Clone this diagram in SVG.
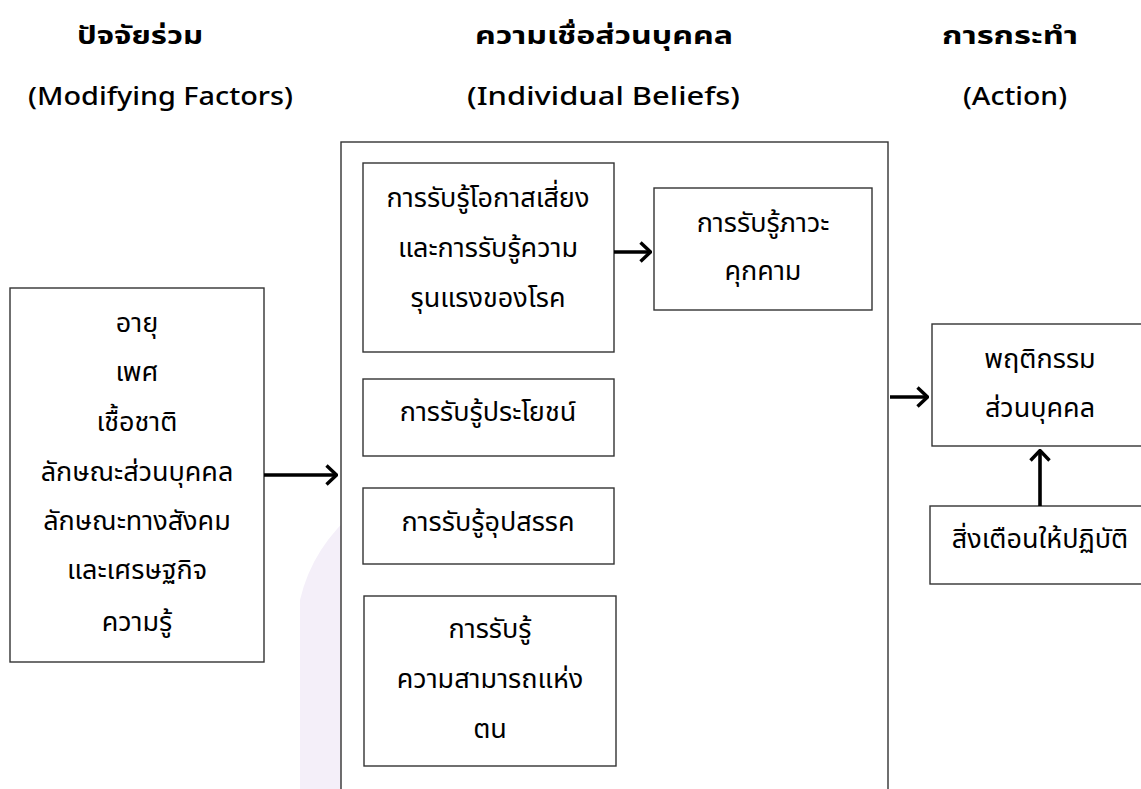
<svg xmlns="http://www.w3.org/2000/svg" width="1141" height="789" viewBox="0 0 1141 789">
<style>
.box{fill:#fff;stroke:#333;stroke-width:1.4}
.t{font-family:"Noto Sans Thai","Noto Sans Thai Looped","Noto Sans","DejaVu Sans",sans-serif;font-size:27px;fill:#000;text-anchor:middle}
.h{font-family:"Noto Sans Thai","Noto Sans","DejaVu Sans",sans-serif;font-size:24px;font-weight:bold;fill:#000;text-anchor:middle}
.s{font-family:"Noto Sans","DejaVu Sans",sans-serif;font-size:25px;font-weight:500;fill:#000;text-anchor:middle}
.c{fill:none;stroke:#000;stroke-width:3.6}
.wm{fill:#f4eff9}
</style>
<defs>
<marker id="ah" viewBox="0 0 13 22" refX="12" refY="11" markerWidth="13" markerHeight="22" markerUnits="userSpaceOnUse" orient="auto">
<polyline points="1.5,1.5 11.5,11 1.5,20.5" fill="none" stroke="#000" stroke-width="3.4"/>
</marker>
</defs>
<rect width="1141" height="789" fill="#fff"/>
<g id="watermark">
<path class="wm" d="M300 789 L300 600 Q330 470 560 430 Q790 470 815 600 L815 789 Z"/>
</g>
<g id="headings">
<text class="h" x="140" y="44" textLength="126" lengthAdjust="spacingAndGlyphs">ปัจจัยร่วม</text>
<text class="s" x="160.5" y="105" textLength="265" lengthAdjust="spacingAndGlyphs">(Modifying Factors)</text>
<text class="h" x="604" y="44" textLength="258" lengthAdjust="spacingAndGlyphs">ความเชื่อส่วนบุคคล</text>
<text class="s" x="603.5" y="105" textLength="273" lengthAdjust="spacingAndGlyphs">(Individual Beliefs)</text>
<text class="h" x="1010" y="44" textLength="136" lengthAdjust="spacingAndGlyphs">การกระทำ</text>
<text class="s" x="1015" y="105" textLength="104" lengthAdjust="spacingAndGlyphs">(Action)</text>
</g>
<g id="modifying">
<rect class="box" x="10" y="288" width="254" height="374"/>
<text class="t" x="137" y="332">อายุ</text>
<text class="t" x="137" y="381">เพศ</text>
<text class="t" x="137" y="431">เชื้อชาติ</text>
<text class="t" x="137" y="481">ลักษณะส่วนบุคคล</text>
<text class="t" x="137" y="530">ลักษณะทางสังคม</text>
<text class="t" x="137" y="579">และเศรษฐกิจ</text>
<text class="t" x="137" y="631">ความรู้</text>
</g>
<g id="beliefs">
<rect class="box" x="341" y="142" width="547" height="660"/>
</g>
<g id="susceptibility">
<rect class="box" x="363" y="163" width="251" height="189"/>
<text class="t" x="488" y="207">การรับรู้โอกาสเสี่ยง</text>
<text class="t" x="488" y="257">และการรับรู้ความ</text>
<text class="t" x="488" y="307">รุนแรงของโรค</text>
</g>
<g id="threat">
<rect class="box" x="654" y="188" width="218" height="122"/>
<text class="t" x="763" y="232">การรับรู้ภาวะ</text>
<text class="t" x="763" y="280">คุกคาม</text>
</g>
<g id="benefits">
<rect class="box" x="363" y="379" width="251" height="77"/>
<text class="t" x="488" y="421">การรับรู้ประโยชน์</text>
</g>
<g id="barriers">
<rect class="box" x="363" y="488" width="251" height="76"/>
<text class="t" x="488" y="531">การรับรู้อุปสรรค</text>
</g>
<g id="selfefficacy">
<rect class="box" x="364" y="596" width="252" height="170"/>
<text class="t" x="490" y="638">การรับรู้</text>
<text class="t" x="490" y="688">ความสามารถแห่ง</text>
<text class="t" x="490" y="738">ตน</text>
</g>
<g id="behavior">
<rect class="box" x="932" y="324" width="220" height="122"/>
<text class="t" x="1040" y="368">พฤติกรรม</text>
<text class="t" x="1040" y="417">ส่วนบุคคล</text>
</g>
<g id="cues">
<rect class="box" x="930" y="506" width="222" height="78"/>
<text class="t" x="1040" y="548">สิ่งเตือนให้ปฏิบัติ</text>
</g>
<g id="connectors">
<line class="c" x1="264" y1="475" x2="337" y2="475" marker-end="url(#ah)"/>
<line class="c" x1="614" y1="252" x2="651" y2="252" marker-end="url(#ah)"/>
<line class="c" x1="890" y1="397" x2="928" y2="397" marker-end="url(#ah)"/>
<line class="c" x1="1040" y1="506" x2="1040" y2="450" marker-end="url(#ah)"/>
</g>
</svg>
